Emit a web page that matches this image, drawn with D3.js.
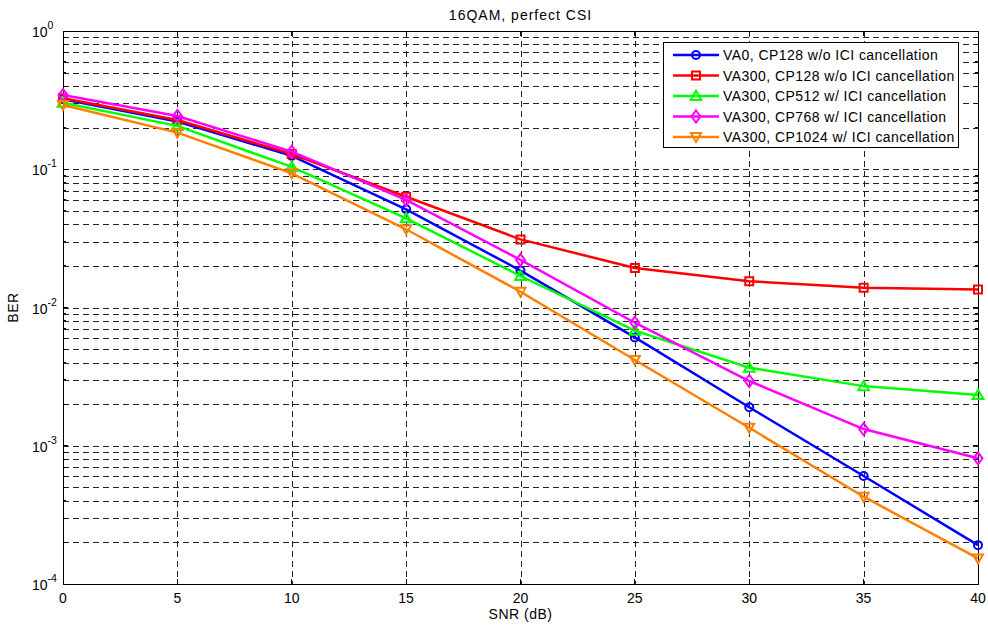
<!DOCTYPE html>
<html>
<head>
<meta charset="utf-8">
<title>16QAM, perfect CSI</title>
<script src="https://cdn.jsdelivr.net/npm/d3@7"></script>
<style>
	body { margin: 0; background: #fff; }
	svg text { font-family: "Liberation Sans", Arial, sans-serif; fill: #000; }
	.grid line { stroke: #222; stroke-width: 1; stroke-dasharray: 6,4; shape-rendering: crispEdges; }
</style>
</head>
<body>
<div id="chart"></div>
<script>
// SNR points (dB)
var snr = [0, 5, 10, 15, 20, 25, 30, 35, 40];

// BER curves
var berVA0cp128   = [0.321, 0.221, 0.125, 0.0513, 0.0185, 0.00608, 0.0019, 0.000604, 0.000191];
var berVA300cp128 = [0.326, 0.227, 0.129, 0.0633, 0.0311, 0.0193, 0.0155, 0.0139, 0.0135];
var berCp512      = [0.303, 0.206, 0.104, 0.0442, 0.0169, 0.0068, 0.00367, 0.0027, 0.00233];
var berCp768      = [0.344, 0.243, 0.134, 0.060, 0.0221, 0.00776, 0.00294, 0.00132, 0.000811];
var berCp1024     = [0.292, 0.184, 0.0935, 0.0368, 0.013, 0.00417, 0.00135, 0.000428, 0.000153];

var seriesNames = [
	"VA0, CP128 w/o ICI cancellation",
	"VA300, CP128 w/o ICI cancellation",
	"VA300, CP512 w/ ICI cancellation",
	"VA300, CP768 w/ ICI cancellation",
	"VA300, CP1024 w/ ICI cancellation"
];
var seriesColors = ["#0000ff", "#ff0000", "#00ff00", "#ff00ff", "#ff8000"];
var seriesMarkers = ["circle", "square", "triangle", "diamond", "triangleDown"];

var xTicks = [0, 5, 10, 15, 20, 25, 30, 35, 40];
var yDecades = [0, -1, -2, -3, -4];

var series = [berVA0cp128, berVA300cp128, berCp512, berCp768, berCp1024].map(function(v, i) {
	return { name: seriesNames[i], color: seriesColors[i], marker: seriesMarkers[i],
		values: v.map(function(b, j) { return { x: snr[j], y: b }; }) };
});

var width = 988, height = 633;
var margin = { left: 63, right: 10, top: 31, bottom: 49 };
var innerW = width - margin.left - margin.right;
var innerH = height - margin.top - margin.bottom;

var svg = d3.select("#chart").append("svg")
	.attr("width", width)
	.attr("height", height);

var g = svg.append("g")
	.attr("transform", "translate(" + margin.left + "," + margin.top + ")");

var x = d3.scaleLinear().domain([0, 40]).range([0, innerW]);
var y = d3.scaleLog().domain([1e-4, 1]).range([innerH, 0]);

// minor log ticks (2..9 per decade)
var minorTicks = [];
for (var e = -4; e < 0; e++) {
	for (var m = 2; m <= 9; m++) minorTicks.push(m * Math.pow(10, e));
}

// grid
var grid = g.append("g").attr("class", "grid");
grid.selectAll(".gx").data(xTicks.slice(1, -1)).enter().append("line")
	.attr("x1", function(d) { return Math.round(x(d)) + 0.5; })
	.attr("x2", function(d) { return Math.round(x(d)) + 0.5; })
	.attr("y1", 0).attr("y2", innerH);
grid.selectAll(".gy").data(minorTicks.concat([1e-3, 1e-2, 1e-1])).enter().append("line")
	.attr("x1", 0).attr("x2", innerW)
	.attr("y1", function(d) { return Math.round(y(d)) + 0.5; })
	.attr("y2", function(d) { return Math.round(y(d)) + 0.5; });

// axes, MATLAB style box with inward ticks
var majorLen = 5, minorLen = 3;
var axisG = g.append("g").attr("stroke", "#000").attr("stroke-width", 1).attr("shape-rendering", "crispEdges");
axisG.append("rect").attr("x", 0).attr("y", 0).attr("width", innerW).attr("height", innerH).attr("fill", "none");

xTicks.forEach(function(t) {
	axisG.append("line").attr("x1", x(t)).attr("x2", x(t)).attr("y1", innerH).attr("y2", innerH - majorLen);
	axisG.append("line").attr("x1", x(t)).attr("x2", x(t)).attr("y1", 0).attr("y2", majorLen);
});
yDecades.forEach(function(e) {
	var yy = y(Math.pow(10, e));
	axisG.append("line").attr("x1", 0).attr("x2", majorLen).attr("y1", yy).attr("y2", yy);
	axisG.append("line").attr("x1", innerW).attr("x2", innerW - majorLen).attr("y1", yy).attr("y2", yy);
});
minorTicks.forEach(function(t) {
	var yy = y(t);
	axisG.append("line").attr("x1", 0).attr("x2", minorLen).attr("y1", yy).attr("y2", yy);
	axisG.append("line").attr("x1", innerW).attr("x2", innerW - minorLen).attr("y1", yy).attr("y2", yy);
});

// tick labels
g.selectAll(".xl").data(xTicks).enter().append("text")
	.attr("x", function(d) { return x(d); })
	.attr("y", innerH + 19)
	.attr("text-anchor", "middle")
	.style("font-size", "14px")
	.text(function(d) { return d; });

var yl = g.selectAll(".yl").data(yDecades).enter().append("text")
	.attr("x", -31)
	.attr("y", function(d) { return y(Math.pow(10, d)) + 6; })
	.attr("text-anchor", "start")
	.style("font-size", "14px");
yl.append("tspan").text("10");
yl.append("tspan").attr("dy", -8).style("font-size", "10.5px").text(function(d) { return d; });

// axis titles
g.append("text").attr("x", innerW / 2).attr("y", innerH + 35)
	.attr("text-anchor", "middle").style("font-size", "14px").style("letter-spacing", "0.5px").text("SNR (dB)");
g.append("text").attr("transform", "translate(-45," + (innerH / 2) + ") rotate(-90)")
	.attr("text-anchor", "middle").style("font-size", "14px").style("letter-spacing", "0.5px").text("BER");
g.append("text").attr("x", innerW / 2).attr("y", -11)
	.attr("text-anchor", "middle").style("font-size", "14px").style("letter-spacing", "1px").text("16QAM, perfect CSI");

// marker shapes
function markerPath(type) {
	switch (type) {
		case "circle": return d3.symbol(d3.symbolCircle, 50)();
		case "square": return d3.symbol(d3.symbolSquare, 64)();
		case "triangle": return d3.symbol(d3.symbolTriangle, 50)();
		case "diamond": return "M0,-6L4.5,0L0,6L-4.5,0Z";
		case "triangleDown": return "M-5,-4L5,-4L0,5Z";
	}
}

var line = d3.line().x(function(d) { return x(d.x); }).y(function(d) { return y(d.y); });

var plot = g.append("g");
series.forEach(function(s) {
	var sg = plot.append("g");
	sg.append("path").datum(s.values)
		.attr("d", line)
		.attr("fill", "none")
		.attr("stroke", s.color)
		.attr("stroke-width", 2.5);
	sg.selectAll("path.mk").data(s.values).enter().append("path")
		.attr("class", "mk")
		.attr("transform", function(d) {
			var dy = s.marker === "triangle" ? 1 : 0;
			return "translate(" + x(d.x) + "," + (y(d.y) + dy) + ")";
		})
		.attr("d", markerPath(s.marker))
		.attr("fill", "none")
		.attr("stroke", s.color)
		.attr("stroke-width", 2);
});

// legend
var lg = svg.append("g").attr("transform", "translate(663,42)");
lg.append("rect").attr("width", 295).attr("height", 105)
	.attr("fill", "#fff").attr("stroke", "#000").attr("stroke-width", 1).attr("shape-rendering", "crispEdges");
series.forEach(function(s, i) {
	var ly = 13 + i * 20.5;
	var row = lg.append("g").attr("transform", "translate(0," + ly + ")");
	row.append("line").attr("x1", 10).attr("x2", 56).attr("y1", 0).attr("y2", 0)
		.attr("stroke", s.color).attr("stroke-width", 2.5);
	row.append("path").attr("d", markerPath(s.marker))
		.attr("transform", "translate(33," + (s.marker === "triangle" ? 1 : 0) + ")")
		.attr("fill", "none").attr("stroke", s.color).attr("stroke-width", 2);
	row.append("text").attr("x", 60).attr("y", 5).style("font-size", "14px").style("letter-spacing", "0.45px").text(s.name);
});
</script>
</body>
</html>
